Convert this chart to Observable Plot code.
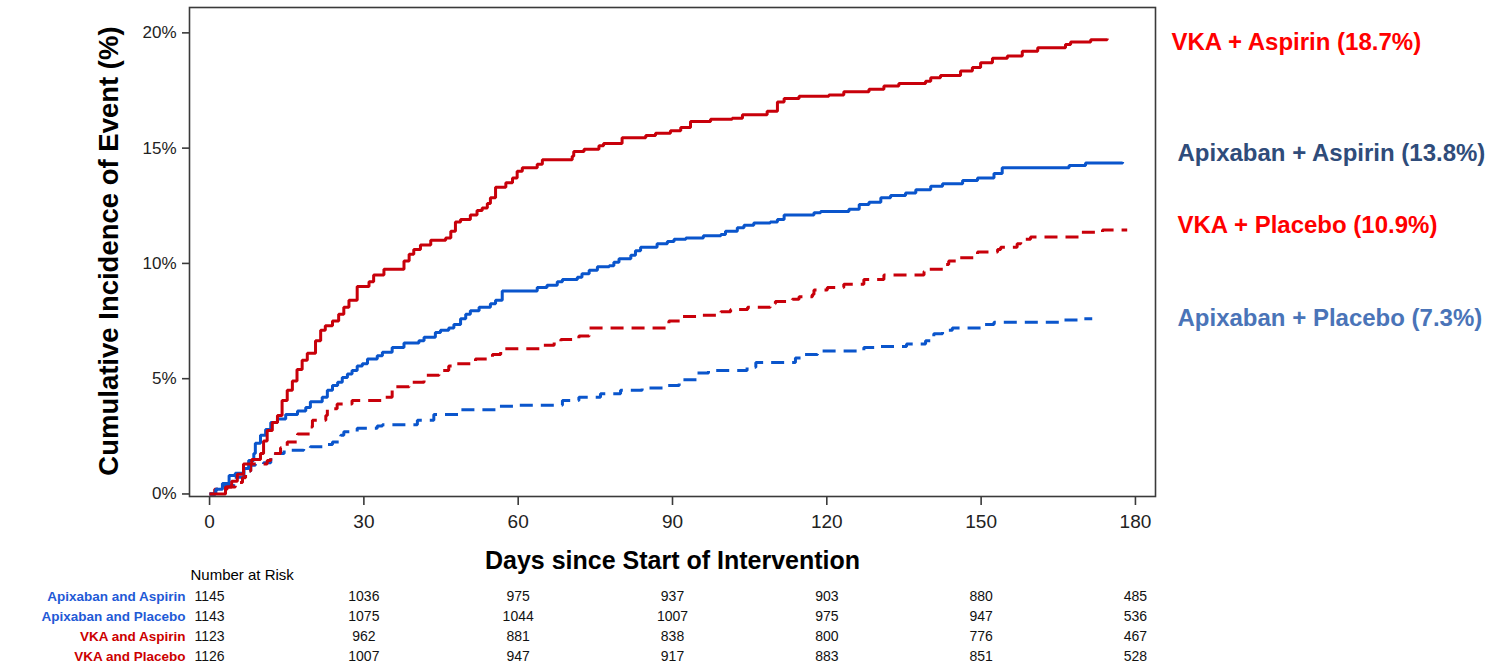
<!DOCTYPE html>
<html>
<head>
<meta charset="utf-8">
<script src="https://cdn.jsdelivr.net/npm/d3@7"></script>
<script src="https://cdn.jsdelivr.net/npm/@observablehq/plot@0.6"></script>
<style>
  html, body { margin: 0; padding: 0; background: #fff; }
  #chart { width: 1491px; height: 665px; }
</style>
</head>
<body>
<div id="chart"></div>
<script>
// ---------- data ----------
const seriesNames = ["VKA + Aspirin", "Apixaban + Aspirin", "VKA + Placebo", "Apixaban + Placebo"];
const legendLabels = ["VKA + Aspirin (18.7%)", "Apixaban + Aspirin (13.8%)", "VKA + Placebo (10.9%)", "Apixaban + Placebo (7.3%)"];

const vkaAspDays = [0,3.1,4.3,5.4,6.6,8.2,9.9,10.5,11.2,12.2,13.2,14.1,15.1,16.1,17,18,19,20.6,21.6,22.5,23.9,25.1,26.1,27.1,28.7,31,31.9,33.9,37.8,38.8,39.7,41,43,45.9,46.9,47.8,48.8,50.7,52,53,54,54.6,55.6,57.6,58.9,59.8,60.8,63.7,64.7,70.5,70.8,72.8,75.7,76.6,80.2,84.8,86.7,89.6,91.6,93.5,97.4,101.6,103.6,108.4,110.4,111.7,114.6,120.4,123.3,128.2,131.1,134,139.2,140.2,142.1,146,148.3,149.9,152.2,155.1,158,161,166.4,167.4,171.3,174.5];
const vkaAspPct  = [0,0.3,0.55,0.85,1.3,1.5,1.75,2.3,2.75,3.1,3.4,4.05,4.5,4.9,5.4,5.8,6.1,6.65,7.1,7.3,7.5,7.8,8.1,8.4,9.0,9.2,9.5,9.75,10.1,10.4,10.6,10.8,11.0,11.1,11.4,11.8,11.9,12.1,12.3,12.4,12.6,12.85,13.3,13.5,13.7,14.0,14.15,14.3,14.5,14.65,14.85,14.95,15.1,15.2,15.45,15.55,15.65,15.75,15.9,16.15,16.25,16.3,16.45,16.6,17.0,17.15,17.25,17.3,17.45,17.55,17.7,17.8,17.9,18.05,18.15,18.35,18.5,18.7,18.9,19.0,19.2,19.35,19.5,19.6,19.7,19.75];

const apxAspDays = [0,1.2,2.5,3.8,5,6.7,7.6,8.6,8.9,9.9,10.9,11.9,13.2,14.8,17.1,18.7,19.6,21.9,22.9,23.9,24.9,25.8,26.8,27.7,28.7,29.7,30.7,32.6,33.6,35.5,37.8,40.7,41.7,43.9,44.9,46.5,47.5,48.8,49.8,50.7,52.4,54.6,55.6,56.9,63.7,65.6,67.6,68.6,71.5,72.4,73.8,75.4,77.7,78.6,79.6,81.9,82.8,83.8,87,89,90.3,92.6,96,99.4,100.3,102.6,103.9,105.8,109,110.4,111.7,117.5,118.8,124.3,126.3,128.2,130.5,132.4,135.3,137.3,140.2,142.5,146.4,149.3,152.5,154.1,167.1,170.3,177.5];
const apxAspPct  = [0,0.2,0.45,0.8,0.9,1.1,1.45,1.75,2.2,2.55,2.8,3.1,3.25,3.45,3.6,3.75,4.0,4.2,4.5,4.7,4.85,5.05,5.2,5.35,5.55,5.65,5.85,6.0,6.15,6.35,6.55,6.65,6.8,7.0,7.1,7.2,7.35,7.6,7.8,7.95,8.1,8.25,8.4,8.8,8.95,9.05,9.2,9.3,9.4,9.55,9.7,9.85,9.9,10.05,10.2,10.35,10.55,10.7,10.85,10.95,11.05,11.1,11.2,11.25,11.4,11.55,11.65,11.75,11.8,11.9,12.1,12.2,12.25,12.35,12.55,12.65,12.85,12.95,13.05,13.2,13.35,13.45,13.6,13.7,13.9,14.15,14.25,14.35,14.4];

const vkaPlbDays = [0,1,3.4,5,6.4,7,8,11.2,11.9,13.8,15.1,17.1,19.6,20,22.6,22.9,24.8,27.7,33.9,35.5,35.7,38.8,41.7,44.6,46.5,47.5,51.7,55,56.6,64.7,67,68.3,71.8,73.8,89.3,91.9,94.8,99.4,101.3,104.6,109,110,113.3,114.6,117.2,117.5,120.1,123.3,127.2,131.1,138.9,139.5,143.1,143.7,145.4,149.3,153.2,153.8,157,157.7,159.6,169.4,173.6,178.4];
const vkaPlbPct  = [0,0.2,0.3,0.5,0.7,1.0,1.3,1.45,1.75,2.0,2.25,2.6,2.9,3.2,3.4,3.7,3.9,4.05,4.2,4.5,4.65,4.85,5.15,5.35,5.55,5.65,5.85,6.05,6.3,6.45,6.6,6.7,6.85,7.2,7.5,7.7,7.75,7.9,8.0,8.1,8.25,8.35,8.45,8.55,8.65,8.85,8.95,9.1,9.3,9.5,9.65,9.75,9.95,10.1,10.25,10.5,10.6,10.7,10.85,11.05,11.15,11.35,11.45,11.45];

const apxPlbDays = [0,1.2,2.8,4.7,6.7,8,8.9,10.5,11.9,12.8,14.5,18.3,19.6,22.2,23.9,25.5,26.1,28.7,32.6,33.6,40.4,43.6,48.5,56.3,60,68.6,71.8,76,79.9,84.1,88.3,91.3,94.8,97,104.5,106.2,113.9,115.5,118.2,119.1,127.2,130.1,135.5,139.2,140.8,142.5,144.4,150.2,152.5,165.8,169.5,171.6];
const apxPlbPct  = [0,0.2,0.37,0.73,1.0,1.25,1.3,1.35,1.6,1.75,1.9,1.95,2.05,2.15,2.25,2.55,2.7,2.85,2.95,3.0,3.2,3.45,3.65,3.8,3.85,4.05,4.2,4.35,4.5,4.6,4.7,4.95,5.25,5.35,5.5,5.7,5.9,6.05,6.1,6.2,6.35,6.4,6.5,6.65,6.95,7.1,7.2,7.35,7.45,7.55,7.6,7.6];

const xTicks = [0, 30, 60, 90, 120, 150, 180];
const yTicks = [0, 5, 10, 15, 20];

const riskGroups = ["Apixaban and Aspirin", "Apixaban and Placebo", "VKA and Aspirin", "VKA and Placebo"];
const riskApxAsp = [1145, 1036, 975, 937, 903, 880, 485];
const riskApxPlb = [1143, 1075, 1044, 1007, 975, 947, 536];
const riskVkaAsp = [1123, 962, 881, 838, 800, 776, 467];
const riskVkaPlb = [1126, 1007, 947, 917, 883, 851, 528];

// ---------- styles ----------
const FONT = "'Liberation Sans', Arial, Helvetica, sans-serif";
const RED = "#c8000a";
const BLUE = "#0a55cc";
const legendColors = ["#ff0000", "#2f4c7a", "#ff0000", "#4a74b8"];
const legendDx = [16, 22, 22, 22];
const legendDy = [35, 146, 218, 311];
const riskColors = ["#1f5ad6", "#1f5ad6", "#cc0000", "#cc0000"];
const riskDy = [100, 120, 140, 160];

// ---------- build tables ----------
function toRows(days, pct, name) {
  return days.map((d, i) => ({series: name, day: d, pct: pct[i]}));
}
const curves = [
  {rows: toRows(apxPlbDays, apxPlbPct, seriesNames[3]), stroke: BLUE, dash: "13,8"},
  {rows: toRows(vkaPlbDays, vkaPlbPct, seriesNames[2]), stroke: RED, dash: "13,8"},
  {rows: toRows(apxAspDays, apxAspPct, seriesNames[1]), stroke: BLUE, dash: null},
  {rows: toRows(vkaAspDays, vkaAspPct, seriesNames[0]), stroke: RED, dash: null}
];
const riskSeries = [riskApxAsp, riskApxPlb, riskVkaAsp, riskVkaPlb];
const legendRows = legendLabels.map((t, i) => ({t, i}));

const marks = [];
curves.forEach(c => {
  marks.push(Plot.line(c.rows, {
    x: "day", y: "pct", curve: "step-after",
    stroke: c.stroke, strokeWidth: 3,
    strokeDasharray: c.dash || undefined,
    strokeLinejoin: "miter", strokeLinecap: "butt"
  }));
});

marks.push(Plot.frame({stroke: "#3a3a3a", strokeWidth: 1.6}));

marks.push(Plot.axisX({
  ticks: xTicks, tickSize: 9, tickPadding: 9, fontSize: 19,
  label: null, stroke: "#3a3a3a", strokeWidth: 1.6, color: "#222"
}));
marks.push(Plot.axisY({
  ticks: yTicks, tickSize: 7, tickPadding: 6, fontSize: 17,
  tickFormat: d => d + "%", label: null, stroke: "#3a3a3a", strokeWidth: 1.6, color: "#222"
}));

// axis titles
marks.push(Plot.text(["Days since Start of Intervention"], {
  frameAnchor: "bottom", textAnchor: "middle", dy: 64, fontSize: 25, fontWeight: "bold", fill: "#000", lineAnchor: "middle"
}));
marks.push(Plot.text(["Cumulative Incidence of Event (%)"], {
  frameAnchor: "left", textAnchor: "middle", dx: -80, dy: -1, rotate: -90, fontSize: 27.5, fontWeight: "bold", fill: "#000", lineAnchor: "middle"
}));

// right-hand legend labels
legendRows.forEach(r => {
  marks.push(Plot.text([r.t], {
    frameAnchor: "top-right", textAnchor: "start", dx: legendDx[r.i], dy: legendDy[r.i],
    fontSize: 24, fontWeight: "bold", fill: legendColors[r.i], lineAnchor: "middle"
  }));
});

// number at risk table
marks.push(Plot.text(["Number at Risk"], {
  frameAnchor: "bottom-left", textAnchor: "start", dx: 1, dy: 79, fontSize: 15, fill: "#000", lineAnchor: "middle"
}));
riskGroups.forEach((g, i) => {
  marks.push(Plot.text([g], {
    frameAnchor: "bottom-left", textAnchor: "end", dx: -4, dy: riskDy[i],
    fontSize: 13.5, fontWeight: "bold", fill: riskColors[i], lineAnchor: "middle"
  }));
  marks.push(Plot.text(riskSeries[i], {
    x: (d, j) => xTicks[j], text: d => String(d), textAnchor: "middle",
    frameAnchor: "bottom", dy: riskDy[i], fontSize: 14, fill: "#111", lineAnchor: "middle"
  }));
});

const chart = Plot.plot({
  width: 1491,
  height: 665,
  marginLeft: 189,
  marginRight: 336,
  marginTop: 7,
  marginBottom: 169,
  style: {fontFamily: FONT, background: "#fff", overflow: "visible"},
  x: {domain: [-3.9, 183.9], axis: null},
  y: {domain: [-0.11, 21.1], axis: null},
  marks
});
document.getElementById("chart").appendChild(chart);
</script>
</body>
</html>
